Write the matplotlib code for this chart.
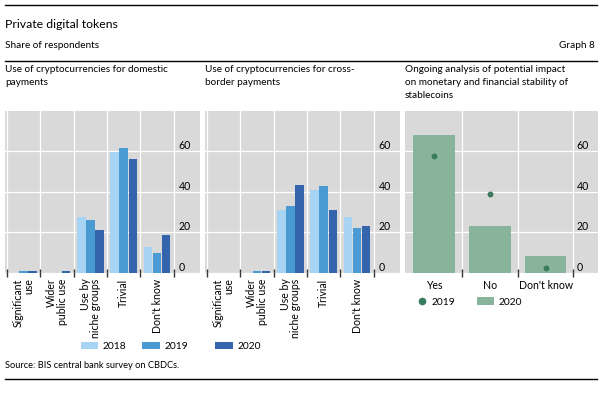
import matplotlib
matplotlib.use("Agg")
import matplotlib.pyplot as plt
from matplotlib.lines import Line2D
from matplotlib.patches import Patch
import numpy as np

plt.rcParams['font.family'] = ['Lato', 'DejaVu Sans']

# ---- data ----
use_categories = ["Significant\nuse", "Wider\npublic use", "Use by\nniche groups", "Trivial", "Don't know"]
years = ["2018", "2019", "2020"]
domestic_2018 = [0, 0, 27.8, 59.5, 12.7]
domestic_2019 = [1.2, 0, 26.0, 61.8, 10.0]
domestic_2020 = [1.2, 1.2, 21.4, 56.4, 18.6]
cross_2018 = [0, 0, 30.9, 41.1, 27.8]
cross_2019 = [0, 1.2, 33.2, 43.1, 22.0]
cross_2020 = [0, 1.2, 43.6, 31.2, 23.4]
stable_categories = ["Yes", "No", "Don't know"]
stable_2019 = [57.7, 39.1, 2.5]
stable_2020 = [67.8, 23.4, 8.6]
yticks = [0, 20, 40, 60]

blue_colors = ["#a6d4f2", "#4a9ad3", "#3464ab"]
green_bar = "#87b49a"
green_dot = "#3b7c60"
bg = "#d9d9d9"
tick_col = "#333333"

W, H = 600, 394
fig = plt.figure(figsize=(W / 100, H / 100), dpi=100)

def frac(x0, y0, x1, y1):
    return [x0 / W, 1 - y1 / H, (x1 - x0) / W, (y1 - y0) / H]

top_px, bot_px = 110.7, 273.0
ax1 = fig.add_axes(frac(5, top_px, 200, bot_px))
ax2 = fig.add_axes(frac(205, top_px, 400, bot_px))
ax3 = fig.add_axes(frac(405, top_px, 598, bot_px))

FS_TICK = 7.6
FS_TXT = 7.2
FS_LEG = 7.4

def style(ax, ncat, xlim, left_tick=True):
    ax.set_facecolor(bg)
    for s in ax.spines.values():
        s.set_visible(False)
    ax.set_xlim(*xlim)
    ax.set_ylim(0, 80)
    ax.set_yticks(yticks)
    ax.yaxis.tick_right()
    ax.tick_params(axis='y', length=0, pad=-15.5, labelsize=FS_TICK, labelcolor="#000000")
    for lab in ax.get_yticklabels():
        lab.set_horizontalalignment('left')
        lab.set_verticalalignment('bottom')
    ax.grid(axis='y', color='white', linewidth=0.9)
    bounds = np.arange(ncat + 1) - 0.5
    if not left_tick:
        bounds = bounds[1:]
    ax.set_xticks(bounds, minor=True)
    ax.grid(axis='x', which='minor', color='white', linewidth=0.9)
    ax.tick_params(axis='x', which='minor', length=6, width=1.0, direction='inout', color=tick_col)
    ax.set_axisbelow(True)

# grouped bars
x = np.arange(len(use_categories))
off = 0.27
bw = 0.255
for ax, series in ((ax1, (domestic_2018, domestic_2019, domestic_2020)),
                   (ax2, (cross_2018, cross_2019, cross_2020))):
    style(ax, len(use_categories), (-0.55, 5.28))
    for i, (vals, c, yr) in enumerate(zip(series, blue_colors, years)):
        ax.bar(x + (i - 1) * off, vals, width=bw, color=c, label=yr, zorder=3)
    ax.set_xticks(x)
    ax.set_xticklabels(use_categories, rotation=90, va='top', ha='center',
                       multialignment='right', fontsize=FS_TICK, linespacing=0.95)
    ax.tick_params(axis='x', which='major', length=0, pad=4)

# stablecoins
xs = np.arange(len(stable_categories))
style(ax3, len(stable_categories), (-0.52, 2.94), left_tick=False)
ax3.bar(xs, stable_2020, width=0.75, color=green_bar, label="2020", zorder=3)
ax3.scatter(xs, stable_2019, s=18, color=green_dot, label="2019", zorder=4, linewidths=0)
ax3.set_xticks(xs)
ax3.set_xticklabels(stable_categories, fontsize=FS_TICK)
ax3.tick_params(axis='x', which='major', length=0, pad=5)

# legends (one per entry, placed like the reference)
leg_kw = dict(frameon=False, fontsize=FS_LEG, handleheight=0.7, borderaxespad=0, borderpad=0)
blue_leg_x = [80.5, 142.3, 215.0]
for c, y, lx in zip(blue_colors, years, blue_leg_x):
    fig.legend(handles=[Patch(facecolor=c, label=y)], loc='center left',
               bbox_to_anchor=(lx / W, 1 - 346.5 / H), handlelength=1.72,
               handletextpad=0.45, **leg_kw)
fig.legend(handles=[Line2D([], [], marker='o', linestyle='none', color=green_dot,
                           markersize=4.5, label="2019")],
           loc='center left', bbox_to_anchor=(416.5 / W, 1 - 302 / H),
           handlelength=1.0, handletextpad=0.5, **leg_kw)
fig.legend(handles=[Patch(facecolor=green_bar, label="2020")],
           loc='center left', bbox_to_anchor=(477 / W, 1 - 302 / H),
           handlelength=1.65, handletextpad=0.45, **leg_kw)

# titles and rules
def hline(y):
    fig.add_artist(Line2D([5 / W, 597 / W], [1 - y / H, 1 - y / H], color='black', linewidth=1.0))

hline(5)
hline(61)
hline(379)
fig.text(5 / W, 1 - 24 / H, "Private digital tokens", fontsize=8.8, va='center', ha='left')
fig.text(5 / W, 1 - 46 / H, "Share of respondents", fontsize=FS_TXT, va='center', ha='left')
fig.text(595 / W, 1 - 46 / H, "Graph 8", fontsize=FS_TXT, va='center', ha='right')
ptitle_kw = dict(fontsize=FS_TXT, va='top', ha='left', linespacing=1.55)
fig.text(5 / W, 1 - 65.5 / H, "Use of cryptocurrencies for domestic\npayments", **ptitle_kw)
fig.text(205 / W, 1 - 65.5 / H, "Use of cryptocurrencies for cross-\nborder payments", **ptitle_kw)
fig.text(405 / W, 1 - 65.5 / H,
         "Ongoing analysis of potential impact\non monetary and financial stability of\nstablecoins",
         **ptitle_kw)
fig.text(5 / W, 1 - 366 / H, "Source: BIS central bank survey on CBDCs.", fontsize=6.7, va='center', ha='left')

fig.savefig("out.png", dpi=100)
